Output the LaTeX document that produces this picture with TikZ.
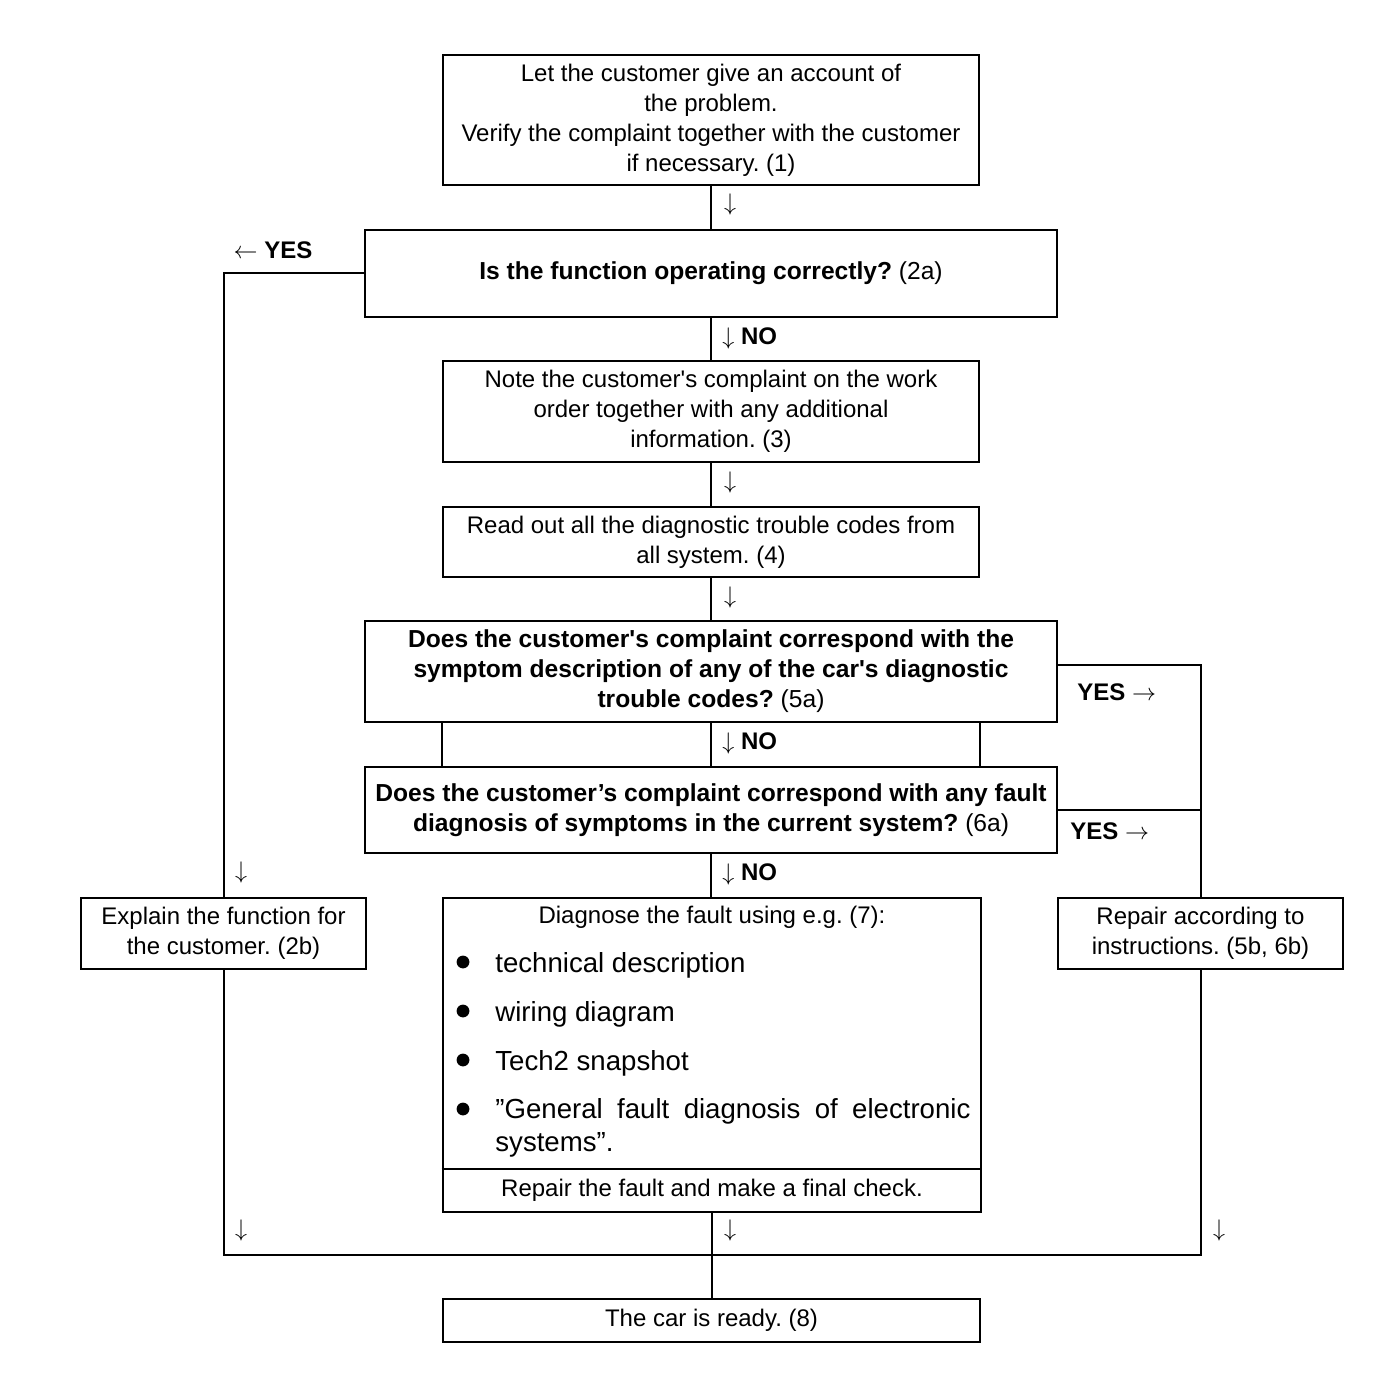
\documentclass[tikz,border=0pt]{standalone}
\usepackage{fontspec}
\setmainfont{Liberation Sans}
\newcommand{\sq}{\textquotesingle}
\begin{document}
\frenchspacing
\begin{tikzpicture}[x=0.5pt,y=-0.5pt,
  box/.style={draw,line width=1pt,inner sep=0pt,align=center,font=\fontsize{12}{15}\selectfont\frenchspacing},
  qbox/.style={box,font=\fontsize{12.3}{15}\selectfont\frenchspacing},
  lbl/.style={inner sep=0pt,font=\fontsize{12}{15}\selectfont\frenchspacing},
  conn/.style={line width=1pt}]
\useasboundingbox (0,0) rectangle (1392,1390);
\node[box,minimum width=268pt,minimum height=65pt] (b1) at (711,120)
  {Let the customer give an account of\\the problem.\\Verify the complaint together with the customer\\if necessary. (1)};
\node[qbox,minimum width=346pt,minimum height=43.5pt] (q2) at (711,273.5)
  {\textbf{Is the function operating correctly?} (2a)};
\node[box,minimum width=268pt,minimum height=50.5pt] (b3) at (711,411.5)
  {Note the customer\sq s complaint on the work\\order together with any additional\\information. (3)};
\node[box,minimum width=268pt,minimum height=35pt] (b4) at (711,542)
  {Read out all the diagnostic trouble codes from\\all system. (4)};
\node[qbox,minimum width=346pt,minimum height=50.5pt] (q5) at (711,671.5)
  {\textbf{Does the customer\sq s complaint correspond with the}\\\textbf{symptom description of any of the car\sq s diagnostic}\\\textbf{trouble codes?} (5a)};
\node[qbox,minimum width=346pt,minimum height=43pt] (q6) at (711,810)
  {\textbf{Does the customer’s complaint correspond with any fault}\\\textbf{diagnosis of symptoms in the current system?} (6a)};
\node[box,minimum width=142.5pt,minimum height=35.5pt] (ex) at (223.5,933.5)
  {Explain the function for\\the customer. (2b)};
\node[box,minimum width=142.5pt,minimum height=35.5pt] (rp) at (1200.5,933.5)
  {Repair according to\\instructions. (5b, 6b)};
\node[box,minimum width=269pt,minimum height=157pt] (dg) at (711.5,1055) {};
\node[box,minimum width=268.5pt,minimum height=21.5pt] (rd) at (711.5,1320.5)
  {The car is ready. (8)};

% inside diagnose box
\draw[conn] ([yshift=22pt]dg.south west) -- ([yshift=22pt]dg.south east);
\node[lbl] (dgt) at (712,917) {Diagnose the fault using e.g. (7):};
\node[lbl] (dgr) at (712,1190) {Repair the fault and make a final check.};
\foreach \yy in {962,1011,1060,1109}{
  \fill (463,\yy) circle (3.2pt);
}
\begin{scope}[every node/.style={lbl,anchor=west,font=\fontsize{13.8}{16.5}\selectfont\frenchspacing}]
\node (i1) at (495,965) {technical description};
\node (i2) at (495,1014) {wiring diagram};
\node (i3) at (495,1063) {Tech2 snapshot};
\node[align=left,anchor=north west] (i4) at (495,1098)
  {\makebox[237.5pt][s]{”General fault diagnosis of electronic}\\systems”.};
\end{scope}

% connectors
\draw[conn] (b1) -- (q2);
\draw[conn] (q2) -- (b3);
\draw[conn] (b3) -- (b4);
\draw[conn] (b4) -- (q5);
\draw[conn] (q5) -- (q6);
\draw[conn] (q5.south -| b3.west) -- (q6.north -| b3.west);
\draw[conn] (q5.south -| b3.east) -- (q6.north -| b3.east);
\draw[conn] (q6.south) -- (q6.south |- dg.north);
\draw[conn] (q2.west) -| (ex.north);
\draw[conn] ([yshift=3.25pt]q5.east) -| (rp.north);
\draw[conn] (q6.east) -- (q6.east -| rp.north);
\coordinate (j) at (711.5,1255);
\draw[conn] (ex.south) -- (ex.south |- j) -- (rp.south |- j) -- (rp.south);
\draw[conn] (dg.south) -- (rd.north);

% labels
\node[lbl] (l1) at (273,250) {$\leftarrow$ \textbf{YES}};
\node[lbl] (a1) at (730,205) {$\downarrow$};
\node[lbl,anchor=west] (n1) at (722,338) {$\downarrow$ \textbf{NO}};
\node[lbl] (a2) at (730,482) {$\downarrow$};
\node[lbl] (a3) at (730,597) {$\downarrow$};
\node[lbl,anchor=west] (n2) at (722,743) {$\downarrow$ \textbf{NO}};
\node[lbl,anchor=west] (y1) at (1077,692) {\textbf{YES} $\rightarrow$};
\node[lbl,anchor=west] (y2) at (1070,831) {\textbf{YES} $\rightarrow$};
\node[lbl,anchor=west] (n3) at (722,874) {$\downarrow$ \textbf{NO}};
\node[lbl] (a4) at (241,872) {$\downarrow$};
\node[lbl] (a5) at (241,1230) {$\downarrow$};
\node[lbl] (a6) at (730,1230) {$\downarrow$};
\node[lbl] (a7) at (1219,1230) {$\downarrow$};
\end{tikzpicture}
\end{document}
